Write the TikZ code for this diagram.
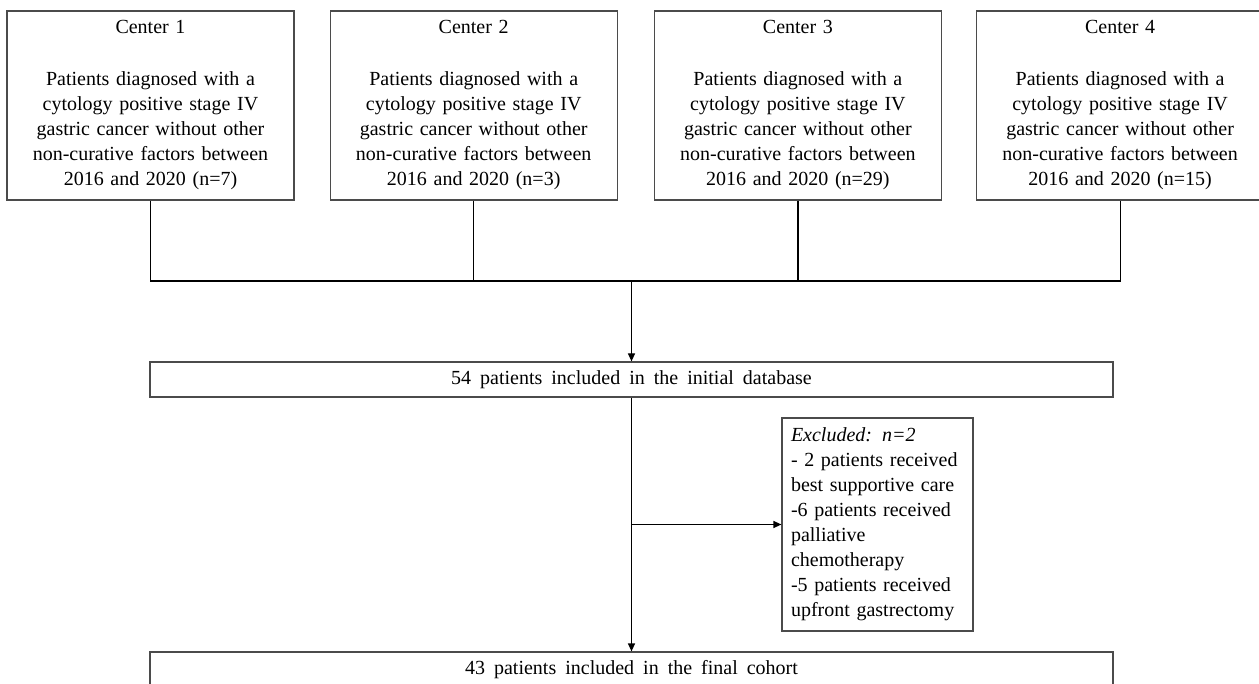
\documentclass[tikz,border=0pt]{standalone}
\usepackage{fontspec}
\setmainfont[WordSpace=1.8]{Liberation Serif}
\usepackage{xcolor}
\usepackage{tikz}
\usetikzlibrary{positioning,arrows.meta}
\definecolor{boxline}{RGB}{75,75,75}
\newcommand{\centertext}[2]{Center #1\\[27pt]
  Patients diagnosed with a\\ cytology positive stage IV\\
  gastric cancer without other\\ non-curative factors between\\
  2016 and 2020 (n=#2)}
\tikzset{
  cbox/.style={rectangle, draw=boxline, line width=1.2pt, fill=white,
    minimum width=287pt, minimum height=189pt, text width=280pt,
    align=center, inner sep=0pt, font=\fontsize{20}{25}\selectfont},
  wbox/.style={rectangle, draw=boxline, line width=1.2pt, fill=white,
    minimum width=963pt, minimum height=35pt, inner sep=0pt,
    font=\fontsize{20}{25}\selectfont},
  xbox/.style={rectangle, draw=boxline, line width=1.2pt, fill=white,
    minimum height=213pt, text width=173pt, inner xsep=9pt, inner ysep=0pt,
    align=left, font=\fontsize{20}{25}\selectfont},
  link/.style={black, line width=1.2pt},
  arr/.style={link, -{Triangle[length=8pt,width=7pt]}},
}
\begin{document}
\begin{tikzpicture}[x=1pt, y=1pt]
  \clip (0,0) rectangle (1259,-684);

  \node[cbox] (c1) at (150.5,-105.5) {\centertext{1}{7}};
  \node[cbox, right=35pt of c1] (c2) {\centertext{2}{3}};
  \node[cbox, right=36pt of c2] (c3) {\centertext{3}{29}};
  \node[cbox, right=34pt of c3] (c4) {\centertext{4}{15}};

  \node[wbox] (db) at (631.5,-379.5) {54 patients included in the initial database};
  \node[xbox] (ex) at (877.5,-524.5) {\textit{Excluded: n=2}\\
    - 2 patients received\\ best supportive care\\
    -6 patients received\\ palliative\\ chemotherapy\\
    -5 patients received\\ upfront gastrectomy};
  \node[wbox] (fc) at (631.5,-669.5) {43 patients included in the final cohort};

  \coordinate (hbar) at (0,-281);
  \draw[link] (c1.south) |- (c4.south |- hbar) -- (c4.south);
  \draw[link] (c2.south) -- (c2.south |- hbar);
  \draw[link] (c3.south) -- (c3.south |- hbar);
  \draw[arr] (db.north |- hbar) -- (db.north);
  \draw[arr] (db.south) -- (fc.north);
  \draw[arr] (ex.west -| db.south) -- (ex.west);
\end{tikzpicture}
\end{document}
